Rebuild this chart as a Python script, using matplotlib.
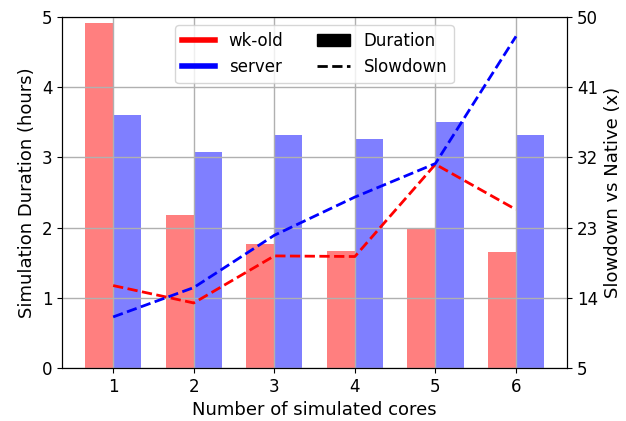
import numpy as np
import matplotlib
matplotlib.use("Agg")
import matplotlib.pyplot as plt
from matplotlib.lines import Line2D
from matplotlib.patches import Patch

# donnees
cores = [1, 2, 3, 4, 5, 6]
dur_wkold = [4.915, 2.175, 1.762, 1.667, 1.98, 1.652]
dur_server = [3.60, 3.073, 3.315, 3.262, 3.50, 3.315]
slow_wkold = [15.56, 13.33, 19.36, 19.28, 31.1, 25.3]
slow_server = [11.54, 15.3, 22.0, 26.9, 31.2, 47.5]

x = np.array(cores)
width = 0.35

fig, ax1 = plt.subplots(figsize=(6.26, 4.21), dpi=100)
fig.subplots_adjust(left=0.099, right=0.906, top=0.960, bottom=0.126)

ax1.bar(x, dur_wkold, -width, align='edge', color='red', alpha=0.5)
ax1.bar(x, dur_server, width, align='edge', color='blue', alpha=0.5)
ax1.set_ylim(0, 5)
ax1.set_ylabel("Simulation Duration (hours)", fontsize=13)
ax1.set_xlabel("Number of simulated cores", fontsize=13)
ax1.set_xticks(x)
ax1.tick_params(labelsize=12)
ax1.grid(True, axis='x', color='#b0b0b0', lw=1)

ax2 = ax1.twinx()
ax2.plot(x, slow_wkold, '--', color='red', lw=2)
ax2.plot(x, slow_server, '--', color='blue', lw=2)
ax2.set_ylim(5, 50)
ax2.set_yticks(np.linspace(5, 50, 6))
ax2.set_ylabel("Slowdown vs Native (x)", fontsize=13)
ax2.tick_params(labelsize=12)
ax2.grid(True, color='#b0b0b0', lw=1)

handles = [Line2D([0], [0], color='red', lw=4),
           Line2D([0], [0], color='blue', lw=4),
           Patch(color='black'),
           Line2D([0], [0], color='black', ls='--', lw=2)]
labels = ["wk-old", "server", "Duration", "Slowdown"]
ax2.legend(handles, labels, ncol=2, loc='upper center', fontsize=12)

fig.savefig("out.png")
